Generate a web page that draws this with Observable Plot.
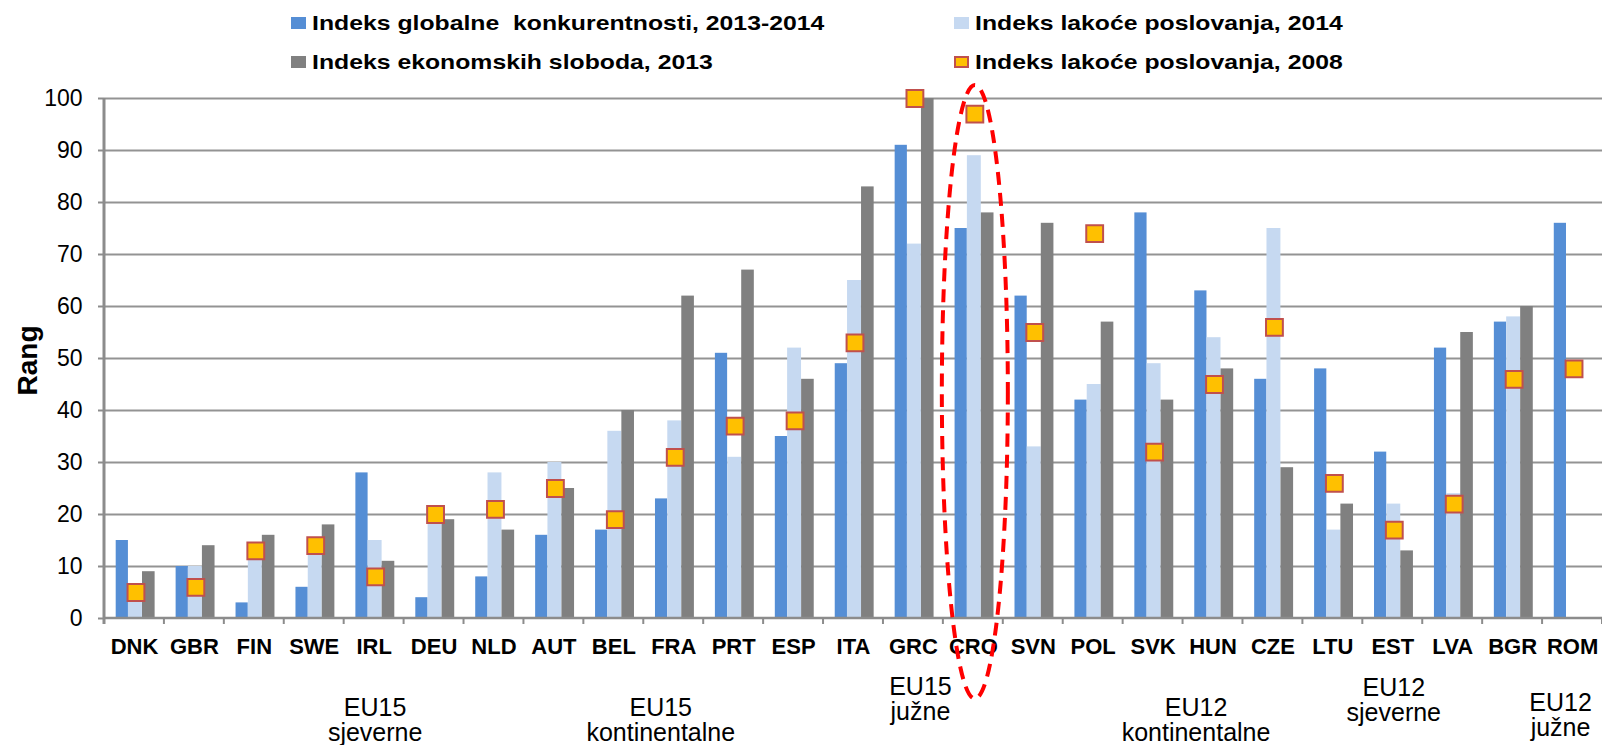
<!DOCTYPE html>
<html>
<head>
<meta charset="utf-8">
<script src="https://cdn.jsdelivr.net/npm/d3@7"></script>
<script src="https://cdn.jsdelivr.net/npm/@observablehq/plot@0.6"></script>
<style>
  html, body { margin: 0; padding: 0; background: #fff; overflow: hidden; }
  #wrap { width: 1602px; height: 745px; position: relative; overflow: hidden; }
  #legend { position: relative; width: 1602px; height: 80px; font-family: 'Liberation Sans', Arial, sans-serif; font-weight: bold; font-size: 21px; color: #000; }
  #legend .sw { position: absolute; width: 15px; height: 12px; box-sizing: border-box; }
  #legend .tx { position: absolute; line-height: 21px; white-space: pre; transform: scaleX(1.18); transform-origin: left center; }
  #chart { width: 1602px; height: 665px; }
  #chart svg { display: block; max-width: none !important; width: 1602px !important; height: 665px !important; }
</style>
</head>
<body>
<div id="wrap">
  <div id="legend"></div>
  <div id="chart"></div>
</div>
<script>
// ---------- DATA ----------
const countries = ["DNK","GBR","FIN","SWE","IRL","DEU","NLD","AUT","BEL","FRA","PRT","ESP","ITA","GRC","CRO","SVN","POL","SVK","HUN","CZE","LTU","EST","LVA","BGR","ROM"];
const gci2013 =    [15,10, 3, 6,28, 4, 8,16,17,23,51,35,49, 91,75,62,42,78,63,46,48,32,52,57,76];
const doing2014 =  [ 5,10,12,14,15,21,28,30,36,38,31,52,65, 72,89,33,45,49,54,75,17,22,24,58,null];
const efi2013 =    [ 9,14,16,18,11,19,17,25,40,62,67,46,83,100,78,76,57,42,48,29,22,13,55,60,null];
const doing2008 =  [ 5, 6,13,14, 8,20,21,25,19,31,37,38,53,100,97,55,74,32,45,56,26,17,22,46,48];

const seriesNames = [
  "Indeks globalne  konkurentnosti, 2013-2014",
  "Indeks lakoće poslovanja, 2014",
  "Indeks ekonomskih sloboda, 2013",
  "Indeks lakoće poslovanja, 2008"
];
const yTicks = [0,10,20,30,40,50,60,70,80,90,100];

const groupLabels = ["EU15\nsjeverne", "EU15\nkontinentalne", "EU15\njužne", "EU12\nkontinentalne", "EU12\nsjeverne", "EU12\njužne"];
const groupAnchors = ["IRL", "FRA", "GRC", "HUN", "EST", "ROM"];

const highlightCountry = "CRO";

// ---------- STYLE / LAYOUT ----------
const C_BLUE = "#558ED5", C_LIGHT = "#C6D9F1", C_GRAY = "#808080";
const C_MFILL = "#FFC000", C_MSTROKE = "#C0504D", C_GRID = "#939393";
const FONT = "'Liberation Sans', Arial, sans-serif";
const groupDx = [1, -13, 7, -17, 1, -12];
const groupDy = [102, 102, 81, 102, 82, 97];
const ellipseExtent = {top: 102.5, bottom: -15.5, rx: 33, dx: 2};

// ---------- LEGEND (HTML) ----------
const legend = document.getElementById("legend");
const legendItems = [
  {name: seriesNames[0], left: 291, row: 0, fill: C_BLUE},
  {name: seriesNames[1], left: 954, row: 0, fill: C_LIGHT},
  {name: seriesNames[2], left: 291, row: 1, fill: C_GRAY},
  {name: seriesNames[3], left: 954, row: 1, fill: C_MFILL, stroke: C_MSTROKE}
];
const rowCenters = [22.5, 61.5];
for (const it of legendItems) {
  const sw = document.createElement("div");
  sw.className = "sw";
  sw.style.left = it.left + "px";
  sw.style.top = (rowCenters[it.row] - 6) + "px";
  sw.style.background = it.fill;
  if (it.stroke) sw.style.border = "2px solid " + it.stroke;
  legend.appendChild(sw);
  const tx = document.createElement("div");
  tx.className = "tx";
  tx.style.left = (it.left + 21) + "px";
  tx.style.top = (rowCenters[it.row] + 7.5 - 17.8) + "px";
  tx.textContent = it.name;
  legend.appendChild(tx);
}

// ---------- TABLES ----------
const rows = countries.map((c, i) => ({country: c, gci: gci2013[i], db14: doing2014[i], efi: efi2013[i], db08: doing2008[i]}));
const notNull = k => rows.filter(d => d[k] != null);
const groups = groupLabels.map((g, i) => ({label: g, anchor: groupAnchors[i]}));

// ---------- CUSTOM RENDER MARKS ----------
function axisLines(index, scales) {
  const x = scales.x, y = scales.y;
  const bw = x.bandwidth();
  const g = d3.create("svg:g");
  const x0 = x(countries[0]);
  const x1 = x(countries[countries.length - 1]) + bw;
  const bounds = countries.map(c => x(c)).concat([x1]);
  g.selectAll("line.bt").data(bounds).join("line")
    .attr("x1", d => d).attr("x2", d => d)
    .attr("y1", y(0)).attr("y2", y(0) + 6)
    .attr("stroke", "#8c8c8c").attr("stroke-width", 2);
  g.append("line").attr("x1", x0).attr("x2", x0).attr("y1", y(0) + 6).attr("y2", y(100))
    .attr("stroke", "#8c8c8c").attr("stroke-width", 3);
  g.append("line").attr("x1", x0).attr("x2", x1 + 4).attr("y1", y(0)).attr("y2", y(0))
    .attr("stroke", "#8c8c8c").attr("stroke-width", 2.5);
  return g.node();
}

function highlightEllipse(index, scales) {
  const x = scales.x, y = scales.y;
  const cx = x(highlightCountry) + x.bandwidth() / 2 + ellipseExtent.dx;
  const yt = y(ellipseExtent.top), yb = y(ellipseExtent.bottom);
  return d3.create("svg:ellipse")
    .attr("cx", cx).attr("cy", (yt + yb) / 2)
    .attr("rx", ellipseExtent.rx).attr("ry", (yb - yt) / 2)
    .attr("fill", "none").attr("stroke", "#FF0000")
    .attr("stroke-width", 4).attr("stroke-dasharray", "13,8")
    .node();
}

// ---------- PLOT ----------
const groupMarks = groups.map((g, i) => Plot.text([g], {
  x: "anchor", text: "label", frameAnchor: "bottom",
  dx: groupDx[i], dy: groupDy[i], lineAnchor: "middle", lineHeight: 1.0,
  fontSize: 25, fill: "#000"
}));

const plot = Plot.plot({
  width: 1602,
  height: 665,
  marginTop: 18,
  marginBottom: 127,
  marginLeft: 104,
  marginRight: 0,
  style: {fontFamily: FONT, color: "#000", background: "#fff", overflow: "visible"},
  x: {type: "band", domain: countries, padding: 0, round: false, label: null},
  y: {domain: [0, 100], label: null},
  marks: [
    Plot.gridY(yTicks.filter(t => t > 0), {stroke: C_GRID, strokeOpacity: 1, strokeWidth: 2}),
    Plot.barY(notNull("gci"), {x: "country", y: "gci", fill: C_BLUE, insetLeft: 11.7, insetRight: 36}),
    Plot.barY(notNull("db14"), {x: "country", y: "db14", fill: C_LIGHT, insetLeft: 24, insetRight: 22}),
    Plot.barY(notNull("efi"), {x: "country", y: "efi", fill: C_GRAY, insetLeft: 38, insetRight: 9.3}),
    axisLines,
    Plot.dot(notNull("db08"), {x: "country", y: "db08", symbol: "square", r: 9.5, fill: C_MFILL, stroke: C_MSTROKE, strokeWidth: 2, dx: 1.5}),
    Plot.axisY({ticks: yTicks, tickSize: 6, tickPadding: 16, stroke: "#8c8c8c", strokeWidth: 2, fontSize: 23, fill: "#000", label: null}),
    Plot.axisX({tickSize: 0, tickPadding: 20, fontSize: 22, fontWeight: "bold", fill: "#000", label: null}),
    Plot.text(["Rang"], {text: d => d, frameAnchor: "left", textAnchor: "middle", rotate: -90, dx: -76, dy: 2, fontSize: 28, fontWeight: "bold", fill: "#000"}),
    ...groupMarks,
    highlightEllipse
  ]
});
document.getElementById("chart").appendChild(plot);
</script>
</body>
</html>
